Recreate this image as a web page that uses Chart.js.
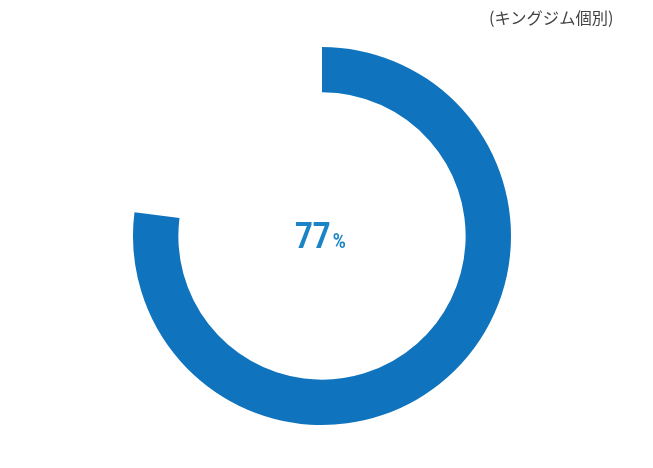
<!DOCTYPE html>
<html lang="ja">
<head>
<meta charset="utf-8">
<script src="https://cdn.jsdelivr.net/npm/chart.js@4"></script>
<style>
  html, body { margin: 0; padding: 0; background: #fff; }
  #wrap { position: relative; width: 653px; height: 468px; }
  #note {
    position: absolute; top: 5px; left: 489px;
    font-family: "Noto Sans CJK JP", sans-serif; font-size: 16.3px; color: #444;
  }
</style>
</head>
<body>
<div id="wrap">
  <canvas id="grafico" width="653" height="468"></canvas>
  <div id="note">(キングジム個別)</div>
</div>
<script>
const rotulos = ['キングジム個別', 'その他'];
const valores = [77, 23];
const cores = ['#1073bd', 'rgba(0,0,0,0)'];
const textoCentro = '77';
const unidade = '%';

// texto no centro, um pouco estreitado como no original
const centroTexto = {
  id: 'centroTexto',
  afterDraw(chart) {
    const arc = chart.getDatasetMeta(0).data[0];
    const ctx = chart.ctx;
    const esc = 0.84;
    ctx.save();
    ctx.fillStyle = '#1a84c6';
    ctx.textBaseline = 'alphabetic';
    ctx.font = 'bold 37px Roboto, sans-serif';
    const w1 = ctx.measureText(textoCentro).width * esc;
    const x0 = 295;
    const y0 = arc.y + 12;
    ctx.translate(x0, y0);
    ctx.scale(esc, 1);
    ctx.fillText(textoCentro, 0, 0);
    ctx.font = 'bold 21px Roboto, sans-serif';
    ctx.fillText(unidade, (w1 + 2) / esc, 0);
    ctx.restore();
  }
};

new Chart(document.getElementById('grafico'), {
  type: 'doughnut',
  data: {
    labels: rotulos,
    datasets: [{
      data: valores,
      backgroundColor: cores,
      borderWidth: 0
    }]
  },
  options: {
    responsive: false,
    animation: false,
    cutout: '76%',
    layout: { padding: { top: 47, bottom: 43, left: 133, right: 142 } },
    plugins: {
      legend: { display: false },
      tooltip: { enabled: false }
    }
  },
  plugins: [centroTexto]
});
</script>
</body>
</html>
